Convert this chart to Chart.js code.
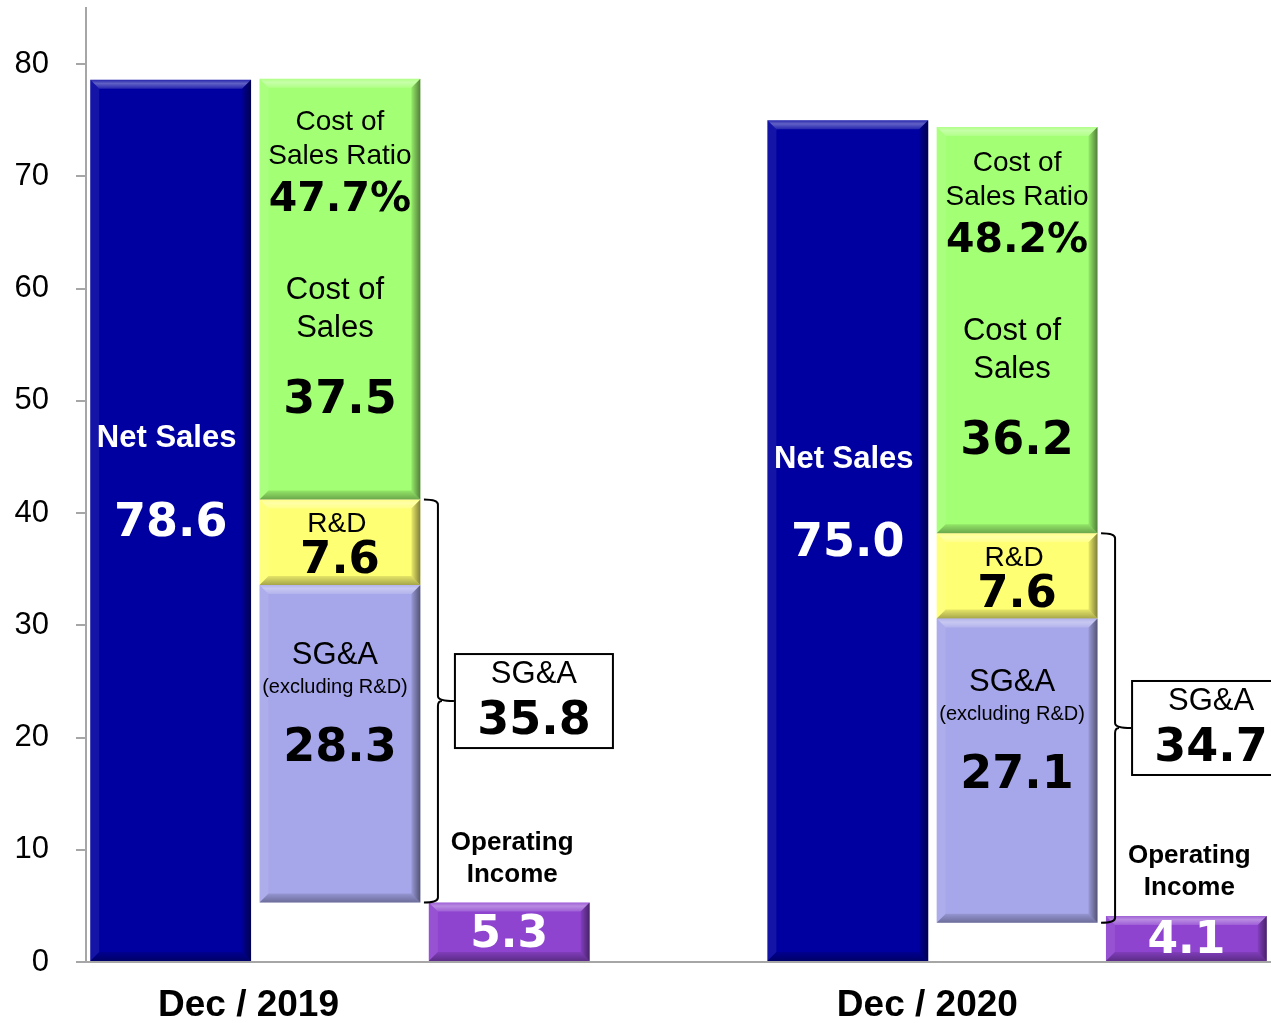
<!DOCTYPE html>
<html>
<head>
<meta charset="utf-8">
<script src="https://cdn.jsdelivr.net/npm/chart.js@4"></script>
<style>
  html, body { margin: 0; padding: 0; background: #fff; }
</style>
</head>
<body>
<canvas id="c" width="1271" height="1023"></canvas>
<script>
// slots on the x axis: net sales / cost stack / operating income, per period (slot 3 is a gap)
const slots = ['ns19', 'cost19', 'oi19', '', 'ns20', 'cost20', 'oi20'];
const periods = ['Dec / 2019', 'Dec / 2020'];
const periodSlot = [0.46, 4.47];
const nsSlot = [0, 4], stSlot = [1, 5], oiSlot = [2, 6];

const netSales = [78.6, 75.0];
const stackBase = [5.3, 3.5];
const sgaExRd = [28.3, 27.1];
const rnd = [7.6, 7.6];
const costOfSales = [37.5, 36.2];
const opIncome = [5.3, 4.1];
const sgaTotal = [35.8, 34.7];
const costRatio = ['47.7%', '48.2%'];
const yTicks = [0, 10, 20, 30, 40, 50, 60, 70, 80];

const sgaTop = stackBase.map((b, i) => b + sgaExRd[i]);
const rndTop = sgaTop.map((b, i) => b + rnd[i]);
const cosTop = rndTop.map((b, i) => b + costOfSales[i]);

function place(idx, lows, highs) {
  const arr = slots.map(() => null);
  idx.forEach((s, i) => { arr[s] = [lows[i], highs[i]]; });
  return arr;
}

const SANS = '"Liberation Sans", Arial, sans-serif';
const NUM = '"DejaVu Sans", Verdana, sans-serif';

// bevelled edges like the office-style bars
const bevel = {
  id: 'bevel',
  afterDatasetsDraw(chart) {
    const ctx = chart.ctx;
    chart.data.datasets.forEach((ds, di) => {
      chart.getDatasetMeta(di).data.forEach((el, i) => {
        if (ds.data[i] == null) return;
        const p = el.getProps(['x', 'y', 'base', 'width'], true);
        const l = p.x - p.width / 2, r = p.x + p.width / 2;
        const t = Math.min(p.y, p.base), b = Math.max(p.y, p.base);
        const s = Math.min(9, (b - t) / 2);
        const poly = (pts, fill) => {
          ctx.beginPath();
          pts.forEach((q, k) => k ? ctx.lineTo(q[0], q[1]) : ctx.moveTo(q[0], q[1]));
          ctx.closePath();
          ctx.fillStyle = fill;
          ctx.fill();
        };
        ctx.save();
        const gt = ctx.createLinearGradient(0, t, 0, t + s);
        gt.addColorStop(0, 'rgba(255,255,255,0.15)');
        gt.addColorStop(0.4, 'rgba(255,255,255,0.38)');
        gt.addColorStop(1, 'rgba(255,255,255,0.15)');
        poly([[l, t], [r, t], [r - s, t + s], [l + s, t + s]], gt);
        poly([[l, t], [l + s, t + s], [l + s, b - s], [l, b]], 'rgba(255,255,255,0.08)');
        const gr = ctx.createLinearGradient(r - s, 0, r, 0);
        gr.addColorStop(0, 'rgba(0,0,0,0.08)');
        gr.addColorStop(1, 'rgba(0,0,0,0.5)');
        poly([[r, t], [r, b], [r - s, b - s], [r - s, t + s]], gr);
        const gb = ctx.createLinearGradient(0, b - s, 0, b);
        gb.addColorStop(0, 'rgba(0,0,0,0.1)');
        gb.addColorStop(1, 'rgba(0,0,0,0.35)');
        poly([[l, b], [l + s, b - s], [r - s, b - s], [r, b]], gb);
        ctx.restore();
      });
    });
  }
};

// in-bar labels, SG&A brackets and boxes, period labels
const annotate = {
  id: 'annotate',
  afterDraw(chart) {
    const ctx = chart.ctx, xs = chart.scales.x, ys = chart.scales.y;
    const X = v => xs.getPixelForValue(v), Y = v => ys.getPixelForValue(v);
    const txt = (s, x, y, font, color) => {
      ctx.font = font; ctx.fillStyle = color || '#000';
      ctx.textAlign = 'center'; ctx.textBaseline = 'middle';
      ctx.fillText(s, x, y);
    };
    ctx.save();
    for (let i = 0; i < 2; i++) {
      // net sales
      const nsMid = (Y(0) + Y(netSales[i])) / 2;
      txt('Net Sales', X(nsSlot[i]) - 4, nsMid - 82, 'bold 31px ' + SANS, '#fff');
      txt(netSales[i].toFixed(1), X(nsSlot[i]), nsMid + 3, 'bold 46px ' + NUM, '#fff');

      // cost of sales
      const cx = X(stSlot[i]);
      const cMid = (Y(rndTop[i]) + Y(cosTop[i])) / 2;
      txt('Cost of', cx, cMid - 167, '28px ' + SANS);
      txt('Sales Ratio', cx, cMid - 133, '28px ' + SANS);
      txt(costRatio[i], cx, cMid - 89, 'bold 41px ' + NUM);
      txt('Cost of', cx - 5, cMid + 1, '31px ' + SANS);
      txt('Sales', cx - 5, cMid + 39, '31px ' + SANS);
      txt(costOfSales[i].toFixed(1), cx, cMid + 112, 'bold 46px ' + NUM);

      // R&D
      const rMid = (Y(sgaTop[i]) + Y(rndTop[i])) / 2;
      txt('R&D', cx - 3, rMid - 18, '28px ' + SANS);
      txt(rnd[i].toFixed(1), cx, rMid + 19, 'bold 45px ' + NUM);

      // SG&A excluding R&D
      const sMid = (Y(stackBase[i]) + Y(sgaTop[i])) / 2;
      txt('SG&A', cx - 5, sMid - 88, '31px ' + SANS);
      txt('(excluding R&D)', cx - 5, sMid - 56, '20px ' + SANS);
      txt(sgaExRd[i].toFixed(1), cx, sMid + 5, 'bold 46px ' + NUM);

      // bracket around SG&A + R&D
      const barR = cx + 80;
      const bt = Y(rndTop[i]), bb = Y(stackBase[i]), bm = (bt + bb) / 2;
      const vx = barR + 18, tip = barR + 34, rr = 5;
      ctx.strokeStyle = '#000'; ctx.lineWidth = 2;
      ctx.beginPath();
      ctx.moveTo(barR + 4, bt);
      ctx.quadraticCurveTo(vx, bt, vx, bt + rr);
      ctx.lineTo(vx, bm - rr);
      ctx.quadraticCurveTo(vx, bm, tip, bm);
      ctx.moveTo(vx + 4, bm);
      ctx.quadraticCurveTo(vx, bm, vx, bm + rr);
      ctx.lineTo(vx, bb - rr);
      ctx.quadraticCurveTo(vx, bb, barR + 4, bb);
      ctx.stroke();

      // SG&A total box
      ctx.fillStyle = '#fff';
      ctx.fillRect(tip + 1, bm - 47, 158, 94);
      ctx.strokeRect(tip + 1, bm - 47, 158, 94);
      txt('SG&A', tip + 80, bm - 27, '31px ' + SANS);
      txt(sgaTotal[i].toFixed(1), tip + 80, bm + 21, 'bold 46px ' + NUM);

      // operating income
      const ox = X(oiSlot[i]);
      const oTop = Y(opIncome[i]);
      txt('Operating', ox + 3, oTop - 60, 'bold 26px ' + SANS);
      txt('Income', ox + 3, oTop - 28, 'bold 26px ' + SANS);
      txt(opIncome[i].toFixed(1), ox, (oTop + Y(0)) / 2 + 3, 'bold 44px ' + NUM, '#fff');

      // period label
      txt(periods[i], X(periodSlot[i]), chart.chartArea.bottom + 44, 'bold 37px ' + SANS);
    }
    ctx.restore();
  }
};

const common = { grouped: false, barPercentage: 0.95, categoryPercentage: 1, borderWidth: 0 };

new Chart(document.getElementById('c'), {
  type: 'bar',
  data: {
    labels: slots,
    datasets: [
      Object.assign({ label: 'Net Sales', data: place(nsSlot, [0, 0], netSales), backgroundColor: '#0000A0' }, common),
      Object.assign({ label: 'SG&A (excluding R&D)', data: place(stSlot, stackBase, sgaTop), backgroundColor: '#A6A6EA' }, common),
      Object.assign({ label: 'R&D', data: place(stSlot, sgaTop, rndTop), backgroundColor: '#FFFF73' }, common),
      Object.assign({ label: 'Cost of Sales', data: place(stSlot, rndTop, cosTop), backgroundColor: '#A3FF73' }, common),
      Object.assign({ label: 'Operating Income', data: place(oiSlot, [0, 0], opIncome), backgroundColor: '#8E44CF' }, common)
    ]
  },
  options: {
    responsive: false,
    animation: false,
    layout: { padding: { top: 8, bottom: 61, left: 0, right: 0 } },
    plugins: { legend: { display: false }, tooltip: { enabled: false } },
    scales: {
      x: {
        type: 'category',
        grid: { display: false, drawTicks: false },
        ticks: { display: false },
        border: { color: '#a6a6a6', width: 2 },
        afterFit: s => { s.height = 0; s.paddingLeft = 0; s.paddingRight = 0; }
      },
      y: {
        min: 0, max: 85,
        afterBuildTicks: s => { s.ticks = yTicks.map(v => ({ value: v })); },
        afterFit: s => { s.width = 86; s.paddingTop = 0; s.paddingBottom = 0; },
        grid: { drawOnChartArea: false, tickLength: 10, color: '#a6a6a6', lineWidth: 2 },
        border: { color: '#a6a6a6', width: 2 },
        ticks: { padding: 27, color: '#000', font: { family: 'Liberation Sans', size: 31 } }
      }
    }
  },
  plugins: [bevel, annotate]
});
</script>
</body>
</html>
